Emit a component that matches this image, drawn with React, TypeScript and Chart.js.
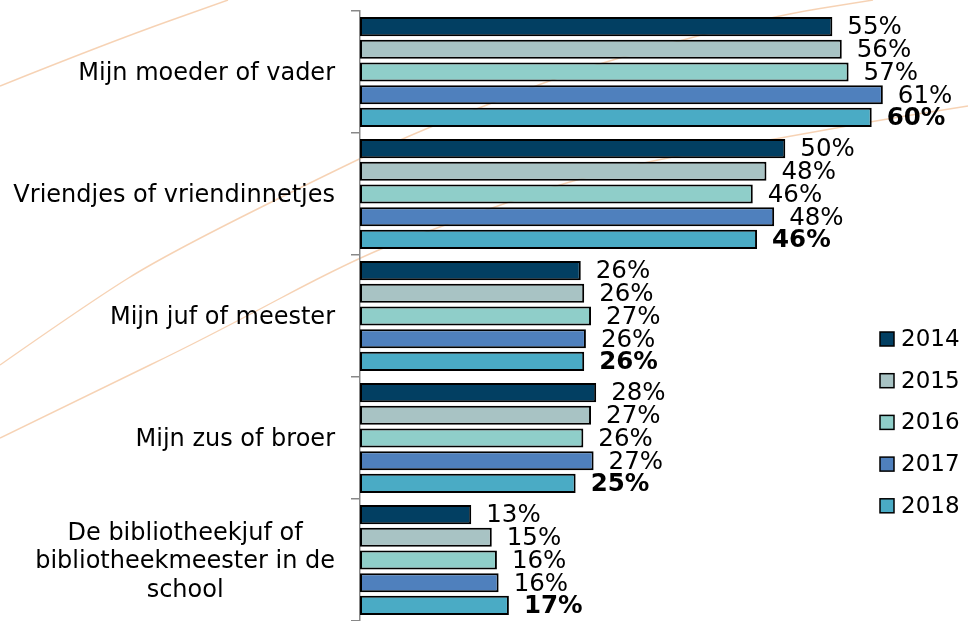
import React, { useEffect, useRef } from 'react';
import { Chart, registerables } from 'chart.js';
Chart.register(...registerables);

const categories: string[][] = [
  ['Mijn moeder of vader'],
  ['Vriendjes of vriendinnetjes'],
  ['Mijn juf of meester'],
  ['Mijn zus of broer'],
  ['De bibliotheekjuf of', 'bibliotheekmeester in de', 'school'],
];
const years = ['2014', '2015', '2016', '2017', '2018'];
const v2014 = [55.2, 49.7, 25.8, 27.6, 13.0];
const v2015 = [56.3, 47.5, 26.2, 27.0, 15.4];
const v2016 = [57.1, 45.9, 27.0, 26.1, 16.0];
const v2017 = [61.1, 48.4, 26.4, 27.3, 16.2];
const v2018 = [59.8, 46.4, 26.2, 25.2, 17.4];
const seriesValues = [v2014, v2015, v2016, v2017, v2018];
const colors = ['#023f62', '#a8c3c4', '#8fcec9', '#4f80bd', '#4aabc5'];

const FONT = '"DejaVu Sans", Verdana, sans-serif';

const curveA: number[][] = [[0, 86], [110, 42], [228, 0]];
const curveB: number[][] = [[0, 365], [90, 302], [167, 254], [358, 159], [427, 128], [487, 105], [540, 84], [610, 60], [767, 17], [873, 0]];
const curveC: number[][] = [[0, 438], [100, 389], [200, 341], [358, 257], [437, 228], [500, 205], [567, 182], [653, 160], [770, 140], [880, 120], [968, 106]];

function smooth(ctx: CanvasRenderingContext2D, pts: number[][]) {
  ctx.beginPath();
  ctx.moveTo(pts[0][0], pts[0][1]);
  for (let i = 1; i < pts.length - 1; i++) {
    const mx = (pts[i][0] + pts[i + 1][0]) / 2;
    const my = (pts[i][1] + pts[i + 1][1]) / 2;
    ctx.quadraticCurveTo(pts[i][0], pts[i][1], mx, my);
  }
  const last = pts[pts.length - 1];
  ctx.lineTo(last[0], last[1]);
  ctx.stroke();
}

const bgCurves = {
  id: 'bgCurves',
  beforeDraw(chart: any) {
    const ctx = chart.ctx;
    ctx.save();
    ctx.fillStyle = '#ffffff';
    ctx.fillRect(0, 0, chart.width, chart.height);
    ctx.strokeStyle = 'rgba(240,180,130,0.6)';
    ctx.lineWidth = 1.4;
    smooth(ctx, curveA);
    smooth(ctx, curveB);
    smooth(ctx, curveC);
    ctx.restore();
  },
};

const overlay = {
  id: 'overlay',
  afterDatasetsDraw(chart: any) {
    const ctx = chart.ctx;
    ctx.save();
    chart.data.datasets.forEach((ds: any, di: number) => {
      const meta = chart.getDatasetMeta(di);
      ctx.font = (di === 4 ? 'bold ' : '') + '24.5px ' + FONT;
      ctx.fillStyle = '#000';
      ctx.textAlign = 'left';
      ctx.textBaseline = 'middle';
      meta.data.forEach((bar: any, i: number) => {
        ctx.fillText(Math.round(ds.data[i]) + '%', bar.x + 15, bar.y + 1.5);
      });
    });
    const yScale = chart.scales.y;
    ctx.font = '24px ' + FONT;
    ctx.textAlign = 'center';
    ctx.textBaseline = 'middle';
    const right = chart.chartArea.left - 25;
    categories.forEach((lines, i) => {
      const cy = yScale.getPixelForValue(i);
      const maxW = Math.max(...lines.map((l) => ctx.measureText(l).width));
      const cx = right - maxW / 2;
      const lh = 28.7;
      lines.forEach((l, k) => {
        ctx.fillText(l, cx, cy + (k - (lines.length - 1) / 2) * lh + 2);
      });
    });
    ctx.font = '23px ' + FONT;
    ctx.textAlign = 'left';
    years.forEach((y, i) => {
      const cy = 339 + i * 41.7;
      ctx.fillStyle = colors[i];
      ctx.fillRect(880, cy - 7, 14, 14);
      ctx.strokeStyle = '#000';
      ctx.lineWidth = 1.5;
      ctx.strokeRect(880, cy - 7, 14, 14);
      ctx.fillStyle = '#000';
      ctx.fillText(y, 901, cy + 1);
    });
    ctx.restore();
  },
};

export default function App() {
  const ref = useRef<HTMLCanvasElement>(null);
  useEffect(() => {
    if (!ref.current) return;
    const chart = new Chart(ref.current, {
      type: 'bar',
      data: {
        labels: categories.map((c) => c.join(' ')),
        datasets: years.map((y, i) => ({
          label: y,
          data: seriesValues[i],
          backgroundColor: colors[i],
          borderColor: '#000',
          borderWidth: 2,
          borderSkipped: false,
          categoryPercentage: 0.93,
          barPercentage: 0.84,
        })),
      },
      options: {
        indexAxis: 'y',
        responsive: false,
        animation: false,
        devicePixelRatio: 1,
        layout: { padding: { top: 11, right: 9, bottom: 0, left: 0 } },
        plugins: { legend: { display: false }, tooltip: { enabled: false } },
        scales: {
          x: { display: false, min: 0, max: 70 },
          y: {
            ticks: { display: false },
            grid: {
              display: true,
              drawOnChartArea: false,
              drawTicks: true,
              tickLength: 9,
              color: '#888888',
              lineWidth: 1.5,
              offset: true,
            },
            border: { display: true, color: '#888888', width: 1.5 },
            afterFit: (s: any) => {
              s.width = 360;
            },
          },
        },
      },
      plugins: [bgCurves, overlay],
    });
    return () => chart.destroy();
  }, []);
  return (
    <div style={{ position: 'absolute', left: 0, top: 0, width: 968, height: 621, background: '#fff' }}>
      <canvas ref={ref} width={968} height={621} style={{ display: 'block' }} />
    </div>
  );
}
